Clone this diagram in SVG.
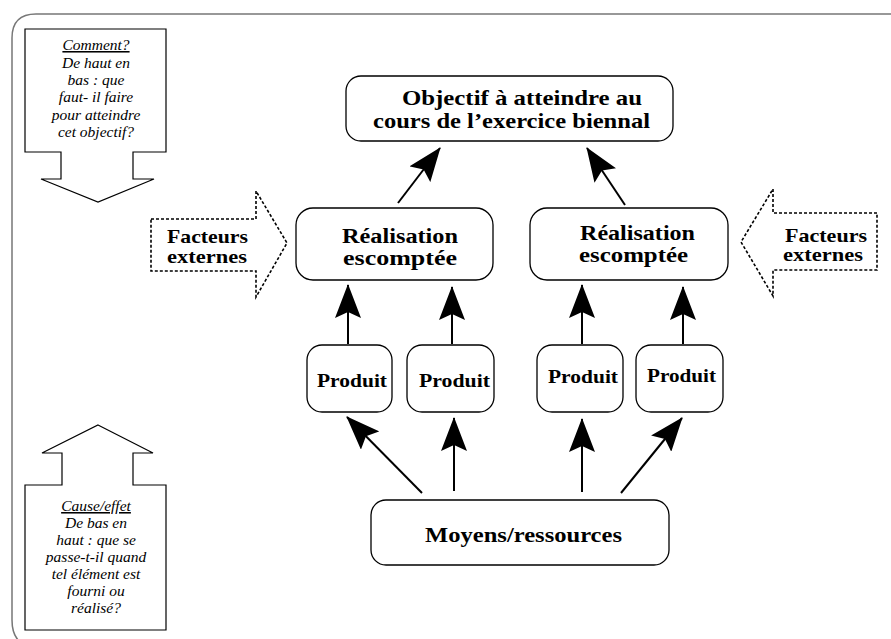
<svg xmlns="http://www.w3.org/2000/svg" width="891" height="639" viewBox="0 0 891 639">
<style>
.box{fill:#fff;stroke:#000;stroke-width:1.3}
.note{fill:#fff;stroke:#000;stroke-width:1.2}
.dash{fill:#fff;stroke:#000;stroke-width:1.6;stroke-dasharray:3 2}
.t{font-family:"Liberation Serif","Times New Roman",serif;font-weight:bold;fill:#000}
.i{font-family:"Liberation Serif","Times New Roman",serif;font-style:italic;font-size:15.5px;fill:#000;text-anchor:middle}
.c{stroke:#000;stroke-width:2;fill:none;marker-end:url(#ah)}
</style>
<defs>
<marker id="ah" markerUnits="userSpaceOnUse" viewBox="0 0 34 26" markerWidth="34" markerHeight="26" refX="33" refY="13" orient="auto">
<path d="M0,0 L34,13 L0,26 L6,13 Z" fill="#000"/>
</marker>
</defs>
<rect width="891" height="639" fill="#fff"/>
<path id="frame" d="M40,648 Q12,648 12,620 L12,38 Q12,14 36,14 L891,14" fill="none" stroke="#777" stroke-width="1.5"/>

<g id="note-comment">
<polygon class="note" points="25,29 166,29 166,152 133,152 133,179 154,179 98,202 41,179 61,179 61,152 25,152"/>
<text class="i" x="96" y="50" text-decoration="underline">Comment?</text>
<text class="i" x="96" y="67.5">De haut en</text>
<text class="i" x="96" y="85">bas : que</text>
<text class="i" x="96" y="102">faut- il faire</text>
<text class="i" x="96" y="119.5">pour atteindre</text>
<text class="i" x="96" y="137">cet objectif?</text>
</g>

<g id="note-cause">
<polygon class="note" points="98,425 153,453 133,453 133,485 166,485 166,630 25,630 25,485 62,485 62,453 42,453"/>
<text class="i" x="96" y="511" text-decoration="underline">Cause/effet</text>
<text class="i" x="96" y="528">De bas en</text>
<text class="i" x="96" y="545">haut : que se</text>
<text class="i" x="96" y="562">passe-t-il quand</text>
<text class="i" x="96" y="579">tel élément est</text>
<text class="i" x="96" y="596">fourni ou</text>
<text class="i" x="96" y="613">réalisé?</text>
</g>

<g id="facteurs-left">
<polygon class="dash" points="151,219 256,219 256,191 287,243 256,297 256,271 151,271"/>
<text class="t" x="167" y="243" font-size="19" textLength="81" lengthAdjust="spacingAndGlyphs">Facteurs</text>
<text class="t" x="167" y="263" font-size="19" textLength="80" lengthAdjust="spacingAndGlyphs">externes</text>
</g>

<g id="facteurs-right">
<polygon class="dash" points="877,213 773,213 773,189 741,242 773,296 773,270 877,270"/>
<text class="t" x="785" y="242" font-size="19" textLength="82" lengthAdjust="spacingAndGlyphs">Facteurs</text>
<text class="t" x="783" y="261" font-size="19" textLength="80" lengthAdjust="spacingAndGlyphs">externes</text>
</g>

<g id="objectif">
<rect class="box" x="346" y="76" width="327" height="65" rx="15"/>
<text class="t" x="402" y="105" font-size="21" textLength="240" lengthAdjust="spacingAndGlyphs">Objectif à atteindre au</text>
<text class="t" x="373" y="128" font-size="21" textLength="277" lengthAdjust="spacingAndGlyphs">cours de l’exercice biennal</text>
</g>

<g id="realisation-left">
<rect class="box" x="296" y="208" width="197" height="72" rx="17"/>
<text class="t" x="342" y="243" font-size="20" textLength="116" lengthAdjust="spacingAndGlyphs">Réalisation</text>
<text class="t" x="343" y="265" font-size="20" textLength="114" lengthAdjust="spacingAndGlyphs">escomptée</text>
</g>

<g id="realisation-right">
<rect class="box" x="530" y="208" width="198" height="72" rx="17"/>
<text class="t" x="580" y="240" font-size="20" textLength="115" lengthAdjust="spacingAndGlyphs">Réalisation</text>
<text class="t" x="579" y="262" font-size="20" textLength="109" lengthAdjust="spacingAndGlyphs">escomptée</text>
</g>

<g id="produit-1">
<rect class="box" x="307" y="345" width="85" height="67" rx="15"/>
<text class="t" x="317" y="387" font-size="19" textLength="70" lengthAdjust="spacingAndGlyphs">Produit</text>
</g>
<g id="produit-2">
<rect class="box" x="407" y="345" width="87" height="67" rx="15"/>
<text class="t" x="419" y="387" font-size="19" textLength="71" lengthAdjust="spacingAndGlyphs">Produit</text>
</g>
<g id="produit-3">
<rect class="box" x="537" y="345" width="86" height="67" rx="15"/>
<text class="t" x="548" y="383" font-size="19" textLength="70" lengthAdjust="spacingAndGlyphs">Produit</text>
</g>
<g id="produit-4">
<rect class="box" x="636" y="345" width="87" height="67" rx="15"/>
<text class="t" x="647" y="382" font-size="19" textLength="69" lengthAdjust="spacingAndGlyphs">Produit</text>
</g>

<g id="moyens">
<rect class="box" x="371" y="500" width="298" height="65" rx="15"/>
<text class="t" x="425" y="542" font-size="21" textLength="197" lengthAdjust="spacingAndGlyphs">Moyens/ressources</text>
</g>

<g id="connectors">
<line class="c" x1="398" y1="203" x2="440" y2="148"/>
<line class="c" x1="625" y1="205" x2="587" y2="148"/>
<line class="c" x1="348" y1="344" x2="348" y2="285"/>
<line class="c" x1="452" y1="344" x2="452" y2="287"/>
<line class="c" x1="582" y1="344" x2="582" y2="285"/>
<line class="c" x1="683" y1="344" x2="683" y2="287"/>
<line class="c" x1="422" y1="493" x2="347" y2="417"/>
<line class="c" x1="454" y1="491" x2="454" y2="418"/>
<line class="c" x1="582" y1="492" x2="582" y2="419"/>
<line class="c" x1="621" y1="493" x2="682" y2="418"/>
</g>
</svg>
